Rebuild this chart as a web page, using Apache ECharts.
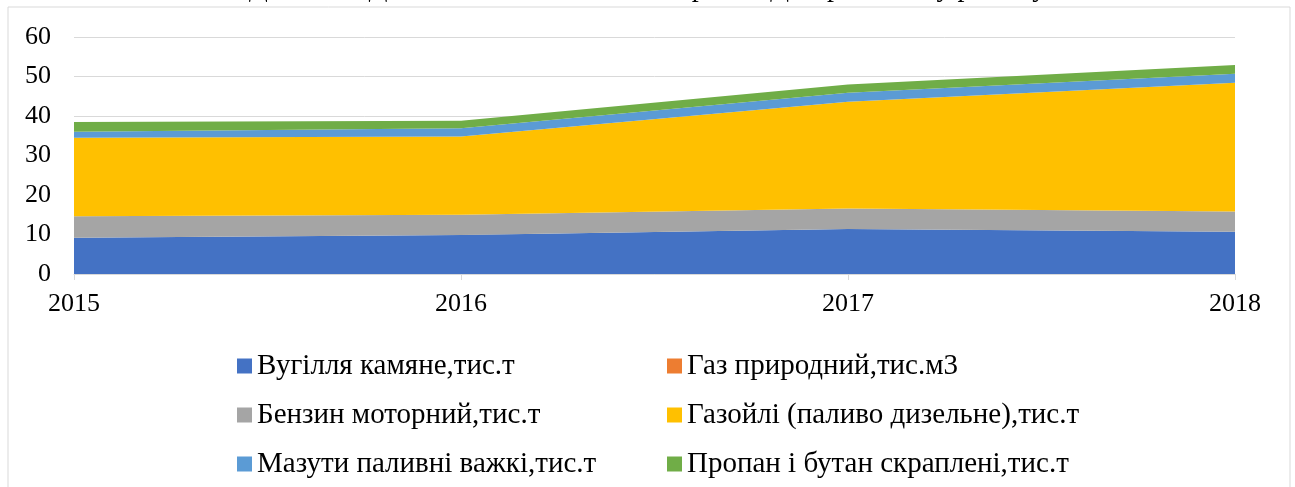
<!DOCTYPE html>
<html><head><meta charset="utf-8">
<script src="https://cdn.jsdelivr.net/npm/echarts@6/dist/echarts.min.js"></script>
<style>html,body{margin:0;padding:0;background:#fff}#c{width:1295px;height:487px}</style>
</head><body><div id="c"></div>
<script>
const years = ['2015', '2016', '2017', '2018'];
const coal = [9.2, 9.9, 11.4, 10.7];
const gas = [0, 0, 0, 0];
const petrol = [5.4, 5.1, 5.2, 5.1];
const diesel = [19.9, 19.8, 27.0, 32.6];
const fuelOil = [1.5, 2.1, 2.3, 2.3];
const propane = [2.5, 1.9, 2.1, 2.2];
const yTicks = [0, 10, 20, 30, 40, 50, 60];
const names = ['Вугілля камяне,тис.т', 'Газ природний,тис.м3', 'Бензин моторний,тис.т',
  'Газойлі (паливо дизельне),тис.т', 'Мазути паливні важкі,тис.т', 'Пропан і бутан скраплені,тис.т'];
const values = [coal, gas, petrol, diesel, fuelOil, propane];
const colors = ['#4472C4', '#ED7D31', '#A5A5A5', '#FFC000', '#5B9BD5', '#70AD47'];
const titleText = 'Динаміка Доставки палива, тис. т на рік по Дніпровському регіону';

const font = '"Liberation Serif", "Times New Roman", serif';
const chart = echarts.init(document.getElementById('c'));
const legendText = {fontFamily: font, fontSize: 29, color: '#000', lineHeight: 30};
chart.setOption({
  animation: false,
  title: {text: titleText, left: 'center', top: -30, textStyle: {fontFamily: font, fontSize: 28, fontWeight: 'normal', color: '#000'}},
  graphic: [{type: 'rect', shape: {x: 8, y: 7, width: 1282, height: 500}, style: {fill: 'none', stroke: '#D9D9D9', lineWidth: 1}, z: -1}],
  grid: {left: 74, right: 60, top: 37, bottom: 213},
  xAxis: {type: 'category', data: years, boundaryGap: false,
    axisLine: {lineStyle: {color: '#D9D9D9', width: 1}},
    axisTick: {show: true, length: 6, lineStyle: {color: '#D9D9D9'}},
    axisLabel: {fontFamily: font, fontSize: 26, color: '#000', margin: 17}},
  yAxis: {type: 'value', min: yTicks[0], max: yTicks[yTicks.length - 1], interval: 10,
    axisLine: {show: false}, axisTick: {show: false},
    splitLine: {lineStyle: {color: '#D9D9D9', width: 1}},
    axisLabel: {fontFamily: font, fontSize: 26, color: '#000', margin: 23}},
  legend: [
    {data: [names[0], names[2], names[4]], orient: 'vertical', left: 232, top: 346, itemWidth: 15, itemHeight: 15, itemGap: 19, icon: 'rect', textStyle: legendText},
    {data: [names[1], names[3], names[5]], orient: 'vertical', left: 662, top: 346, itemWidth: 15, itemHeight: 15, itemGap: 19, icon: 'rect', textStyle: legendText}
  ],
  series: names.map((n, i) => ({
    name: n, type: 'line', stack: 'total', data: values[i], symbol: 'none',
    lineStyle: {width: 0}, areaStyle: {color: colors[i], opacity: 1}, itemStyle: {color: colors[i]}
  }))
});
</script></body></html>
